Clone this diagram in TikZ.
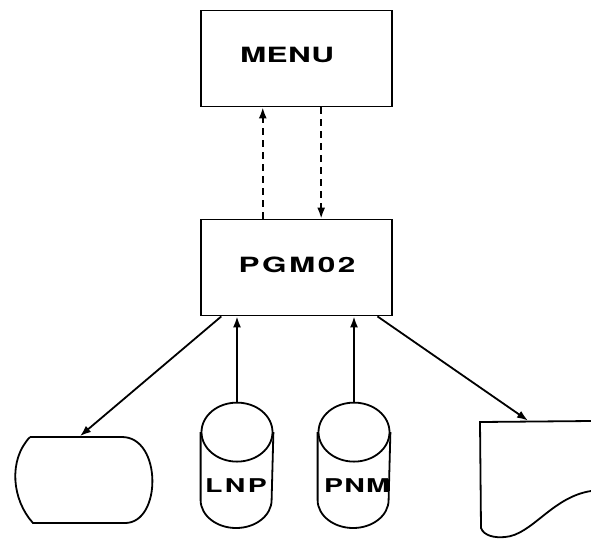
\documentclass[tikz,border=0pt]{standalone}
\usepackage{fontspec}
\usetikzlibrary{arrows.meta,calc}
\newfontfamily\widefont[FakeStretch=1.5]{TeX Gyre Heros}
\begin{document}
\begin{tikzpicture}[line width=1.8pt,
  box/.style={draw,rectangle,minimum width=191pt,minimum height=96pt,inner sep=0pt},
  shapebox/.style={inner sep=0pt},
  lbl/.style={font=\widefont\bfseries\fontsize{21}{21}\selectfont,inner sep=0pt},
  slbl/.style={font=\widefont\bfseries\fontsize{19}{19}\selectfont,inner sep=0pt},
  arr/.style={-{Latex[length=11pt,width=8pt]}},
  dasharr/.style={arr,dash pattern=on 7pt off 5pt}]
\begin{scope}[x=1pt,y=-1pt]
\useasboundingbox (0,0) rectangle (591,542);
% boxes
\node[box] (menu) at (296.5,58.5) {};
\node[box] (pgm) at (296.5,267.5) {};
\node[lbl] (menut) at (287,55) {\addfontfeature{LetterSpace=2}MENU};
\node[lbl] (pgmt) at (297,265) {\addfontfeature{LetterSpace=12}PGM02};
% cylinders (invisible frames)
\node[shapebox,minimum width=71pt,minimum height=125pt] (lnp) at (237,466) {};
\node[shapebox,minimum width=71pt,minimum height=125pt] (pnm) at (354,466) {};
\foreach \c in {lnp,pnm}{
  \draw ($(\c.north)+(0,29.5)$) ellipse [x radius=35.5pt,y radius=29.5pt];
  \draw ($(\c.north west)+(0,29.5)$) -- ($(\c.west)+(0,34)$)
        arc[start angle=180,end angle=360,x radius=35.5pt,y radius=28pt]
        -- ($(\c.north east)+(0,29.5)$);
}
\node[slbl] (lnpt) at (236,486) {\addfontfeature{LetterSpace=12}LNP};
\node[slbl] (pnmt) at (357,486) {\addfontfeature{LetterSpace=6}PNM};
% display shape
\node[shapebox,minimum width=139pt,minimum height=86pt] (disp) at (83.5,480) {};
\draw (30,437) -- (122,437) .. controls (162,437) and (162,523) .. (125,523)
      -- (33,523) .. controls (12,500) and (8,460) .. (30,437);
% document shape
\node[shapebox,minimum width=111pt,minimum height=115pt] (doc) at (535.5,479) {};
\draw (591,421) -- (480,422) -- (481,528) .. controls (484,536) and (495,538) .. (505,537)
      .. controls (532,535) and (552,497) .. (591,491);
% connectors
\draw[dasharr] ($(pgm.north west)!0.325!(pgm.north east)$) -- ($(menu.south west)!0.325!(menu.south east)$);
\draw[dasharr] ($(menu.south west)!0.628!(menu.south east)$) -- ($(pgm.north west)!0.628!(pgm.north east)$);
\draw[arr] (lnp.north) -- (lnp.north |- pgm.south);
\draw[arr] (pnm.north) -- (pnm.north |- pgm.south);
\draw[arr] ($(pgm.south west)!0.11!(pgm.south east)$) -- (disp.north -| 80,0);
\draw[arr] ($(pgm.south west)!0.92!(pgm.south east)$) -- (doc.north -| 528,0);
\end{scope}
\end{tikzpicture}
\end{document}
